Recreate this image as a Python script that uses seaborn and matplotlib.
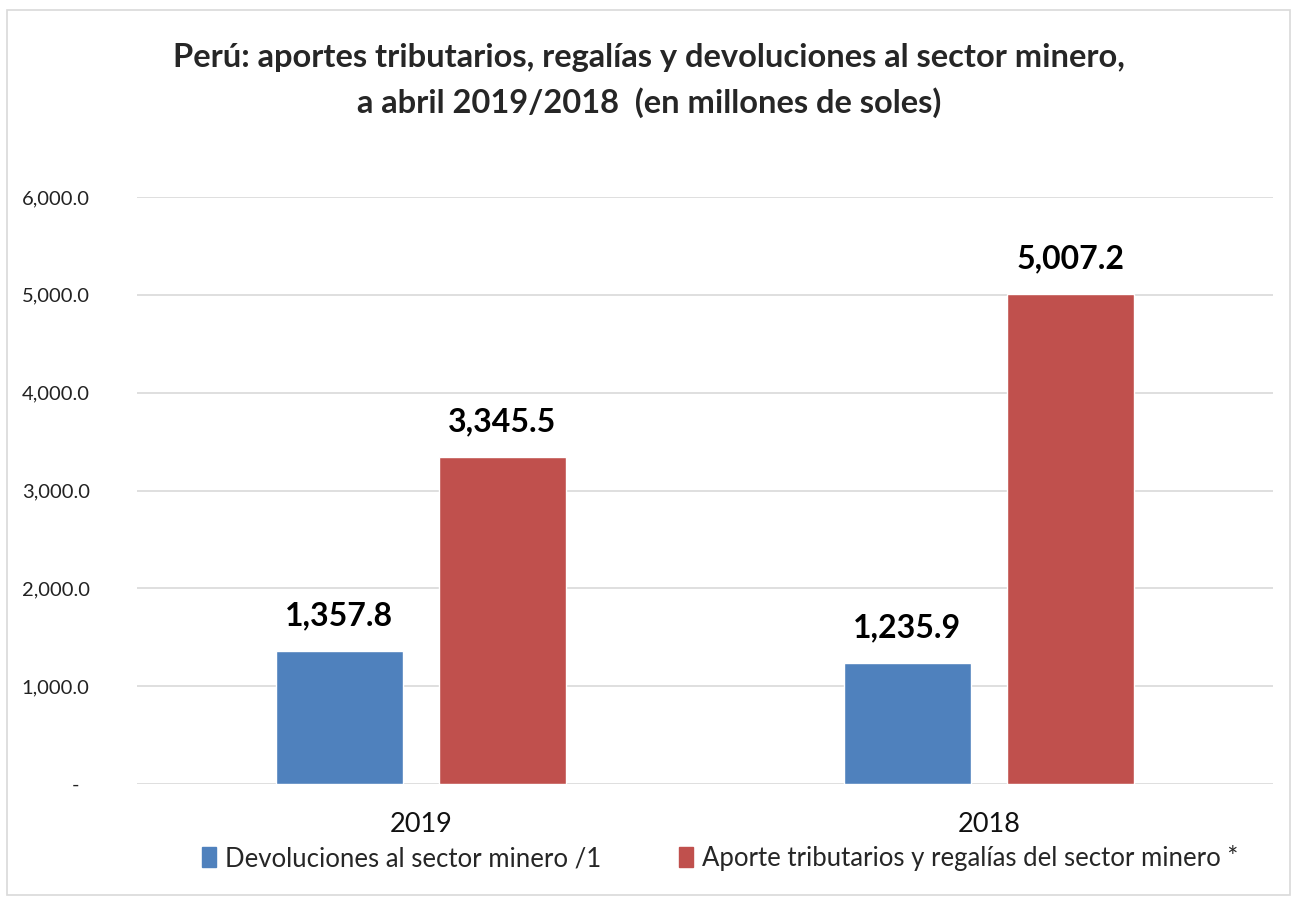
import pandas as pd
import matplotlib.pyplot as plt
import matplotlib.patches as mpatches
import seaborn as sns

years = ['2019', '2018']
devoluciones = [1357.8, 1235.9]
aportes = [3345.5, 5007.2]
series_names = ['Devoluciones al sector minero /1',
                'Aporte tributarios y regalías del sector minero *']
colors = ['#4F81BD', '#C0504D']
title = ('Perú: aportes tributarios, regalías y devoluciones al sector minero,\n'
         'a abril 2019/2018  (en millones de soles)')

df = pd.DataFrame({
    'Año': years * 2,
    'Serie': [series_names[0]] * 2 + [series_names[1]] * 2,
    'Valor': devoluciones + aportes,
})

sns.set_style('white')
plt.rcParams['font.family'] = ['Lato', 'DejaVu Sans']

fig = plt.figure(figsize=(12.98, 9.02), dpi=100)
ax = fig.add_axes([0.1055, 0.1308, 0.8752, 0.6508])

sns.barplot(data=df, x='Año', y='Valor', hue='Serie', order=years,
            hue_order=series_names, palette=colors, width=0.574, gap=0.22,
            saturation=1, legend=False, ax=ax)

for cont in ax.containers:
    ax.bar_label(cont, labels=[f'{v:,.1f}' for v in cont.datavalues],
                 padding=15, fontsize=23, fontweight='bold', color='black')

ax.set_ylim(0, 6000)
ax.set_yticks(range(0, 6001, 1000))
ax.set_yticklabels(['-  '] + [f'{v:,.1f}' for v in range(1000, 6001, 1000)])
ax.yaxis.grid(True, color='#d9d9d9', linewidth=1.2)
ax.set_axisbelow(True)
for s in ax.spines.values():
    s.set_visible(False)
ax.tick_params(axis='y', length=0, pad=34, labelsize=14.5, labelcolor='#222222')
ax.tick_params(axis='x', length=0, pad=20, labelsize=19.5, labelcolor='#111111')
ax.set_xlabel('')
ax.set_ylabel('')

fig.suptitle(title, x=0.5, y=0.952, fontsize=23.5, fontweight='bold',
             linespacing=1.6)

handles = [mpatches.Patch(color=c) for c in colors]
fig.legend(handles, series_names, loc='center', ncol=2,
           bbox_to_anchor=(720 / 1298, 1 - 858 / 902), frameon=False,
           fontsize=18.5, handlelength=0.55, handleheight=0.8,
           handletextpad=0.35, columnspacing=3.0)

fig.add_artist(mpatches.Rectangle((7 / 1298, 7 / 902), 1283 / 1298, 885 / 902,
                                  transform=fig.transFigure, fill=False,
                                  edgecolor='#d9d9d9', linewidth=1.2))

fig.savefig('out.png', dpi=100)
